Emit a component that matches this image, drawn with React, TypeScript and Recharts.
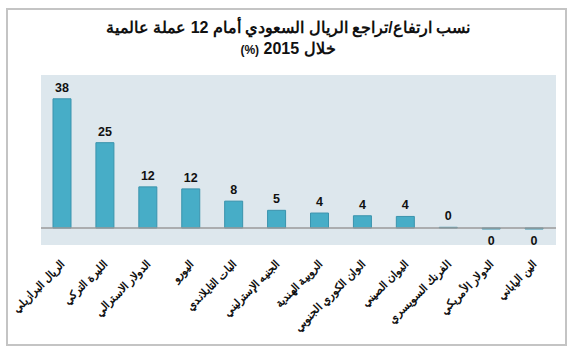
import React from "react";
import { BarChart, Bar, XAxis, YAxis, CartesianGrid, ReferenceLine, LabelList } from "recharts";

const categories = [
  "الريال البرازيلي",
  "الليرة التركي",
  "الدولار الاسترالي",
  "اليورو",
  "البات التايلاندي",
  "الجنيه الإسترليني",
  "الروبية الهندية",
  "الوان الكوري الجنوبي",
  "اليوان الصيني",
  "الفرنك السويسري",
  "الدولار الأمريكي",
  "الين الياباني",
];
const values = [38, 25.1, 12.1, 11.5, 7.9, 5.2, 4.4, 3.6, 3.4, 0.2, -0.3, -0.3];
const valueLabels = ["38", "25", "12", "12", "8", "5", "4", "4", "4", "0", "0", "0"];

const data = categories.map((name, i) => ({ name, value: values[i], label: valueLabels[i] }));

const FONT = "'Liberation Sans', Arial, sans-serif";

const CategoryTick = (props: any) => {
  const { x, y, payload } = props;
  return (
    <g transform={`translate(${x + 3},${y + 18})`}>
      <text
        x={0}
        y={0}
        transform="rotate(-45)"
        textAnchor="end"
        fontFamily={FONT}
        fontSize={11}
        fontWeight="bold"
        fill="#111"
      >
        {payload.value}
      </text>
    </g>
  );
};

const ValueLabel = (props: any) => {
  const { x, y, width, height, index } = props;
  const v = values[index];
  const cx = x + width / 2;
  const top = Math.min(y, y + height);
  const bottom = Math.max(y, y + height);
  const ty = v >= 0 ? top - 7 : bottom + 16;
  return (
    <text
      x={cx}
      y={ty}
      textAnchor="middle"
      fontFamily={FONT}
      fontSize={12.5}
      fontWeight="bold"
      fill="#111"
    >
      {valueLabels[index]}
    </text>
  );
};

export default function App() {
  return (
    <div style={{ position: "absolute", left: 0, top: 0, width: 570, height: 351, background: "#fff" }}>
      <div
        style={{
          position: "absolute",
          left: 6,
          top: 8,
          width: 557,
          height: 334,
          border: "2px solid #c4c4c4",
        }}
      />
      <div
        style={{
          position: "absolute",
          left: 0,
          top: 17,
          width: 576,
          textAlign: "center",
          direction: "rtl",
          fontFamily: FONT,
          fontWeight: "bold",
          fontSize: 16,
          lineHeight: "21px",
          color: "#111",
        }}
      >
        <div>نسب ارتفاع/تراجع الريال السعودي أمام 12 عملة عالمية</div>
        <div>
          خلال 2015 <span style={{ fontSize: 12 }}>(%)</span>
        </div>
      </div>
      <div style={{ position: "absolute", left: 0, top: 0 }}>
        <BarChart
          width={570}
          height={351}
          data={data}
          margin={{ top: 75, right: 14, bottom: 6, left: 41 }}
        >
          <CartesianGrid fill="#dde7ed" stroke="none" />
          <XAxis
            dataKey="name"
            height={100}
            axisLine={false}
            tickLine={false}
            tickSize={0}
            interval={0}
            tick={<CategoryTick />}
          />
          <YAxis hide domain={[-5, 45]} width={0} />
          <ReferenceLine y={0} stroke="#9a9a9a" strokeWidth={1.5} />
          <Bar
            dataKey="value"
            fill="#47adc7"
            stroke="#3a93ad"
            strokeWidth={1}
            barSize={18}
            isAnimationActive={false}
          >
            <LabelList dataKey="label" content={<ValueLabel />} />
          </Bar>
        </BarChart>
      </div>
    </div>
  );
}
